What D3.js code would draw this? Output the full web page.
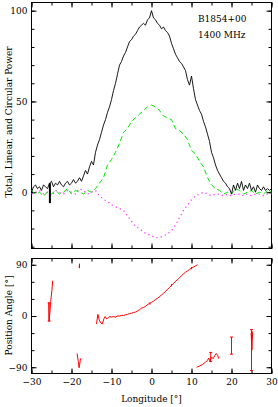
<!DOCTYPE html>
<html>
<head>
<meta charset="utf-8">
<script src="https://cdn.jsdelivr.net/npm/d3@7"></script>
<style>
  body { margin: 0; background: #fff; }
  svg { display: block; }
</style>
</head>
<body>
<div class="container"></div>
<script>
// pulse profile, longitude grid (deg)
const lonFine = d3.range(-30, 30.001, 0.5);
const lonCoarse = d3.range(-30, 30.001, 1);

// total intensity, 0.5 deg steps
const totalPower = [
  0, 3, 4, 2, 3, 1, 4, 3, 2, 5,
  6, 3, 5, 4, 6, 4, 3, 5, 6, 4,
  5, 7, 5, 6, 8, 6, 9, 12, 10, 14,
  17, 15, 22, 26, 29, 33, 37, 40, 44, 47,
  51, 56, 60, 65, 70, 72, 75, 77, 80, 83,
  84, 86, 87, 89, 91, 92, 93, 92, 95, 96,
  100, 96, 95, 93, 92, 90, 91, 89, 88, 86,
  82, 79, 76, 74, 72, 71, 69, 67, 62, 59,
  64, 57, 51, 48, 45, 43, 39, 36, 32, 28,
  22, 19, 15, 12, 10, 8, 6, 5, 3, 2,
  -1, 4, 1, 5, 2, 6, 1, 4, 2, 5,
  1, 3, 0, 4, 2, 1, 3, 1, 2, 1,
  2,
];

// linear polarization, 1 deg steps
const linearPower = [
  1, -1, 0, -2, 0, -1, 1, -1, 0, 2,
  -1, 1, 0, -1, 1, 0, 2, 5, 8, 15,
  18, 22, 27, 33, 35, 39, 41, 43, 45, 47,
  48, 47, 45, 42, 41, 40, 35, 34, 32, 29,
  23, 21, 17, 14, 8, 4, 2, 1, -1, 0,
  -1, 2, 1, -1, 0, 1, -1, 0, -1, 1,
  0,
];

// circular polarization, 1 deg steps
const circularPower = [
  -1, 0, 1, -1, 0, -2, 1, 0, -1, 1,
  0, -1, 2, 1, -1, 0, 1, -2, -4, -5,
  -7, -8, -9, -10, -13, -16, -19, -20, -22, -23,
  -24, -25, -25, -24, -23, -21, -18, -14, -10, -7,
  -4, -2, -1, 0, -1, -2, -1, -1, -2, -1,
  -2, -1, -1, -2, -1, -2, -1, -1, -2, -1,
  -1,
];

// position angle pieces [lon, PA]
const paLeft = [[-25.7, 24], [-25.6, -9], [-25.4, 6], [-25.2, 25], [-24.9, 45], [-24.7, 62]];
const paTopMark = [[-18.1, 85], [-18.0, 91]];
const paDip = [[-18.6, -66], [-18.3, -80], [-18.1, -91], [-17.8, -78], [-17.6, -74]];
const paSweep = [
  [-13.75, -14], [-13.4, 3], [-13.1, -6], [-12.7, -12], [-12.3, -14],
  [-11.9, -5], [-11.6, -1], [-11.2, -5], [-10.8, -3], [-10.4, -1],
  [-10, -2], [-9.5, -1], [-9, -2], [-8.5, 0], [-8, 0],
  [-7.5, 1], [-7, 1], [-6.5, 2], [-6, 3], [-5.5, 4],
  [-5, 5], [-4.5, 6], [-4, 7], [-3.5, 9], [-3, 11],
  [-2.5, 14], [-2, 15], [-1.5, 17], [-1, 20], [-0.5, 22],
  [0, 24], [0.5, 26], [1, 29], [1.5, 31], [2, 34],
  [2.5, 37], [3, 40], [3.5, 43], [4, 47], [4.5, 50],
  [5, 54], [5.5, 57], [6, 61], [6.5, 64], [7, 67],
  [7.5, 71], [8, 74], [8.5, 77], [9, 79], [9.5, 82],
  [10, 84], [10.5, 86], [11, 88], [11.5, 90],
];
const paTail = [
  [11.3, -90], [12, -88], [12.8, -85], [13.5, -81], [14.0, -78],
  [14.3, -74], [14.6, -79], [15.0, -72], [15.4, -75], [15.8, -70],
  [16.2, -66], [16.6, -70], [16.8, -75],
];
const paEdge = [[24.9, -30], [25.0, -45], [25.1, -60], [25.3, -27]];

// PA error bars
const errLon = [-25.6, -18.0, -0.4, 5, 10, 14.8, 20, 25.0];
const errPa = [7, 88, 22, 54, 84, -72, -52, -60];
const errSize = [16, 4, 2, 2, 2, 8, 15, 36];

const titleLines = ["B1854+00", "1400 MHz"];

d3.select(".container").call(chart);

function chart(container) {
  const width = 278;
  const height = 407;
  const font = "'DejaVu Serif', 'Liberation Serif', serif";

  const svg = container
    .append("svg")
    .attr("width", width)
    .attr("height", height);

  //scales
  const x = d3.scaleLinear().domain([-30, 30]).range([31.5, 271.5]);
  const yTop = d3.scaleLinear().domain([-31, 104.5]).range([248.5, 2.5]);
  const yBot = d3.scaleLinear().domain([-101, 101]).range([373.5, 258.5]);

  //frames + ticks
  panel(yTop, [0, 50, 100], d3.range(-30, 101, 10), false);
  panel(yBot, [-90, 0, 90], d3.range(-90, 91, 30), true);

  function panel(y, major, minor, xLabels) {
    const [y0, y1] = y.range();
    const g = svg.append("g");

    const axes = [
      [d3.axisLeft(y), x.range()[0], 0, true],
      [d3.axisRight(y), x.range()[1], 0, false],
    ];
    axes.forEach(([ax, tx, ty, labels]) => {
      g.append("g")
        .attr("transform", `translate(${tx},${ty})`)
        .call(ax.tickValues(minor).tickSize(-3).tickFormat(""));
      g.append("g")
        .attr("transform", `translate(${tx},${ty})`)
        .call(
          ax
            .tickValues(major)
            .tickSize(-5)
            .tickPadding(4)
            .tickFormat(labels ? d3.format("d") : "")
        );
    });

    const xAxes = [
      [d3.axisBottom(x), y0, xLabels],
      [d3.axisTop(x), y1, false],
    ];
    xAxes.forEach(([ax, ty, labels]) => {
      g.append("g")
        .attr("transform", `translate(0,${ty})`)
        .call(ax.tickValues(d3.range(-30, 31, 5)).tickSize(-3).tickFormat(""));
      g.append("g")
        .attr("transform", `translate(0,${ty})`)
        .call(
          ax
            .tickValues(d3.range(-30, 31, 10))
            .tickSize(-5)
            .tickPadding(5)
            .tickFormat(labels ? d3.format("d") : "")
        );
    });

    g.selectAll(".domain").remove();
    g.selectAll(".tick line").attr("stroke", "#000");
    g.selectAll(".tick text")
      .attr("fill", "#000")
      .attr("font-family", font)
      .attr("font-size", 9);

    g.append("rect")
      .attr("x", x.range()[0])
      .attr("y", y1)
      .attr("width", x.range()[1] - x.range()[0])
      .attr("height", y0 - y1)
      .attr("fill", "none")
      .attr("stroke", "#000")
      .attr("stroke-width", 1);
  }

  //profiles
  const gTop = svg.append("g");
  const lineTop = (lon) =>
    d3
      .line()
      .x((d, i) => x(lon[i]))
      .y((d) => yTop(d));

  gTop
    .append("path")
    .attr("d", lineTop(lonCoarse)(circularPower))
    .attr("fill", "none")
    .attr("stroke", "#f3f")
    .attr("stroke-width", 1.3)
    .attr("stroke-dasharray", "1.2,3.2");

  gTop
    .append("path")
    .attr("d", lineTop(lonCoarse)(linearPower))
    .attr("fill", "none")
    .attr("stroke", "#00e600")
    .attr("stroke-width", 1)
    .attr("stroke-dasharray", "5,3");

  gTop
    .append("path")
    .attr("d", lineTop(lonFine)(totalPower))
    .attr("fill", "none")
    .attr("stroke", "#000")
    .attr("stroke-width", 0.9);

  // off-pulse rms bar
  gTop
    .append("line")
    .attr("x1", x(-25.4))
    .attr("x2", x(-25.4))
    .attr("y1", yTop(5))
    .attr("y2", yTop(-6))
    .attr("stroke", "#000")
    .attr("stroke-width", 2);

  gTop
    .selectAll("text.title")
    .data(titleLines)
    .join("text")
    .attr("class", "title")
    .attr("x", 198)
    .attr("y", (d, i) => 21.5 + i * 16.5)
    .attr("font-family", font)
    .attr("font-size", 9)
    .attr("fill", "#000")
    .text((d) => d);

  //position angle
  const gBot = svg.append("g");
  const paLine = d3
    .line()
    .x((d) => x(d[0]))
    .y((d) => yBot(d[1]));

  gBot
    .selectAll("path")
    .data([paLeft, paTopMark, paDip, paSweep, paTail, paEdge])
    .join("path")
    .attr("d", paLine)
    .attr("fill", "none")
    .attr("stroke", "#f00")
    .attr("stroke-width", 1);

  const errs = errLon.map((d, i) => ({ lon: d, pa: errPa[i], e: errSize[i] }));
  const gErr = gBot
    .selectAll("g.err")
    .data(errs)
    .join("g")
    .attr("class", "err")
    .attr("stroke", "#f00")
    .attr("stroke-width", 1);
  gErr
    .append("line")
    .attr("x1", (d) => x(d.lon))
    .attr("x2", (d) => x(d.lon))
    .attr("y1", (d) => yBot(d.pa - d.e))
    .attr("y2", (d) => yBot(d.pa + d.e));
  [-1, 1].forEach((s) => {
    gErr
      .filter((d) => d.e > 5)
      .append("line")
      .attr("x1", (d) => x(d.lon) - 1.5)
      .attr("x2", (d) => x(d.lon) + 1.5)
      .attr("y1", (d) => yBot(d.pa + s * d.e))
      .attr("y2", (d) => yBot(d.pa + s * d.e));
  });

  //axis titles
  const labels = [
    { text: "Total, Linear, and Circular Power", tr: "translate(12,122) rotate(-90)" },
    { text: "Position Angle [°]", tr: "translate(12,315.5) rotate(-90)" },
    { text: "Longitude [°]", tr: "translate(151.5,402)" },
  ];
  svg
    .selectAll("text.axis-title")
    .data(labels)
    .join("text")
    .attr("class", "axis-title")
    .attr("transform", (d) => d.tr)
    .attr("text-anchor", "middle")
    .attr("font-family", font)
    .attr("font-size", 9)
    .attr("fill", "#000")
    .text((d) => d.text);
}
</script>
</body>
</html>
